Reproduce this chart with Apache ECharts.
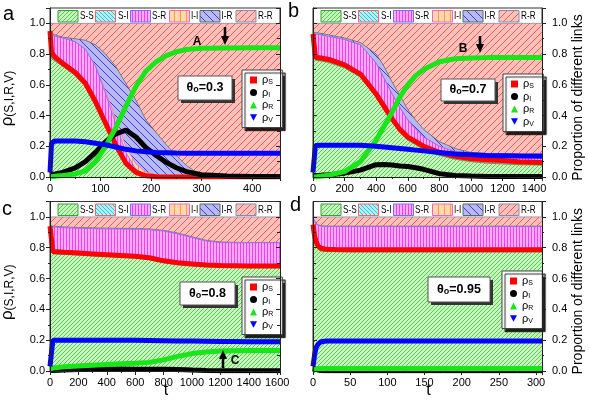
<!DOCTYPE html>
<html><head><meta charset="utf-8">
<script src="https://cdn.jsdelivr.net/npm/echarts@6/dist/echarts.min.js"></script>
<style>html,body{margin:0;padding:0;background:#fff}#c{width:589px;height:405px}</style>
</head><body><div id="c"></div><script>
// ---------------- DATA ----------------
// Panel a (theta0 = 0.3)
const ta = [0, 3, 10, 25, 50, 70, 90, 110, 130, 150, 170, 190, 210, 230, 250, 270, 300, 350, 400, 455];
const aS = [0.95, 0.81, 0.78, 0.74, 0.68, 0.61, 0.49, 0.35, 0.21, 0.09, 0.03, 0.008, 0.002, 0, 0, 0, 0, 0, 0, 0];
const aI = [0.015, 0.015, 0.02, 0.03, 0.06, 0.1, 0.16, 0.23, 0.28, 0.305, 0.26, 0.19, 0.14, 0.095, 0.06, 0.035, 0.015, 0.006, 0.004, 0.003];
const aR = [0, 0, 0.005, 0.01, 0.02, 0.04, 0.1, 0.2, 0.32, 0.46, 0.59, 0.69, 0.75, 0.79, 0.815, 0.83, 0.838, 0.84, 0.842, 0.842];
const aV = [0.03, 0.22, 0.235, 0.235, 0.235, 0.23, 0.22, 0.21, 0.195, 0.18, 0.17, 0.165, 0.16, 0.158, 0.156, 0.155, 0.155, 0.155, 0.155, 0.155];
// upper edges of the stacked link bands (cumulative proportions)
const aTopSS = [0.90, 0.77, 0.755, 0.72, 0.66, 0.59, 0.47, 0.33, 0.19, 0.08, 0.025, 0.006, 0.001, 0, 0, 0, 0, 0, 0, 0];
const aTopSI = [0.90, 0.772, 0.758, 0.724, 0.665, 0.596, 0.478, 0.34, 0.2, 0.088, 0.03, 0.008, 0.002, 0, 0, 0, 0, 0, 0, 0];
const aTopSR = [0.94, 0.925, 0.915, 0.905, 0.88, 0.83, 0.72, 0.54, 0.35, 0.16, 0.05, 0.012, 0.003, 0, 0, 0, 0, 0, 0, 0];
const aTopII = [0.94, 0.925, 0.915, 0.905, 0.882, 0.833, 0.725, 0.555, 0.38, 0.2, 0.085, 0.032, 0.013, 0.005, 0.002, 0, 0, 0, 0, 0];
const aTopIR = [0.94, 0.93, 0.925, 0.91, 0.9, 0.89, 0.86, 0.8, 0.72, 0.61, 0.5, 0.37, 0.29, 0.21, 0.14, 0.075, 0.005, 0, 0, 0];
const aTopRR = [1, 1, 1, 1, 1, 1, 1, 1, 1, 1, 1, 1, 1, 1, 1, 1, 1, 1, 1, 1];

// Panel b (theta0 = 0.7)
const tb = [0, 15, 50, 100, 200, 300, 400, 450, 500, 550, 600, 650, 700, 800, 900, 1000, 1100, 1200, 1300, 1450];
const bS = [0.93, 0.78, 0.775, 0.765, 0.73, 0.67, 0.54, 0.46, 0.38, 0.31, 0.26, 0.23, 0.2, 0.16, 0.135, 0.12, 0.113, 0.108, 0.1, 0.095];
const bI = [0.01, 0.01, 0.012, 0.015, 0.025, 0.045, 0.08, 0.082, 0.078, 0.072, 0.068, 0.06, 0.05, 0.022, 0.01, 0.006, 0.004, 0.003, 0.003, 0.003];
const bR = [0, 0, 0.005, 0.012, 0.035, 0.1, 0.24, 0.33, 0.42, 0.52, 0.6, 0.66, 0.7, 0.75, 0.77, 0.775, 0.777, 0.778, 0.778, 0.778];
const bV = [0.03, 0.205, 0.207, 0.207, 0.207, 0.206, 0.2, 0.195, 0.19, 0.185, 0.18, 0.175, 0.17, 0.16, 0.15, 0.145, 0.14, 0.138, 0.136, 0.135];
const bTopSS = [0.9, 0.76, 0.755, 0.745, 0.71, 0.65, 0.52, 0.44, 0.36, 0.29, 0.24, 0.21, 0.18, 0.14, 0.115, 0.1, 0.09, 0.085, 0.08, 0.077];
const bTopSI = [0.9, 0.762, 0.757, 0.747, 0.713, 0.653, 0.524, 0.444, 0.364, 0.294, 0.243, 0.213, 0.183, 0.142, 0.117, 0.101, 0.091, 0.086, 0.081, 0.078];
const bTopSR = [0.935, 0.93, 0.925, 0.915, 0.895, 0.86, 0.74, 0.64, 0.54, 0.45, 0.37, 0.31, 0.26, 0.2, 0.165, 0.152, 0.149, 0.148, 0.148, 0.148];
const bTopII = [0.935, 0.93, 0.925, 0.915, 0.896, 0.862, 0.744, 0.645, 0.545, 0.455, 0.374, 0.313, 0.262, 0.201, 0.166, 0.153, 0.15, 0.149, 0.149, 0.149];
const bTopIR = [0.945, 0.94, 0.935, 0.925, 0.905, 0.875, 0.8, 0.72, 0.62, 0.53, 0.44, 0.37, 0.31, 0.23, 0.185, 0.16, 0.153, 0.152, 0.152, 0.152];
const bTopRR = [1, 1, 1, 1, 1, 1, 1, 1, 1, 1, 1, 1, 1, 1, 1, 1, 1, 1, 1, 1];

// Panel c (theta0 = 0.8)
const tc = [0, 20, 100, 200, 300, 400, 500, 600, 700, 800, 900, 1000, 1100, 1200, 1300, 1400, 1620];
const cS = [0.94, 0.775, 0.77, 0.765, 0.76, 0.755, 0.75, 0.745, 0.735, 0.715, 0.702, 0.695, 0.688, 0.684, 0.683, 0.682, 0.682];
const cI = [0.005, 0.004, 0.006, 0.01, 0.012, 0.013, 0.013, 0.012, 0.012, 0.012, 0.01, 0.006, 0.003, 0.002, 0.001, 0.001, 0.001];
const cR = [0.01, 0.02, 0.027, 0.032, 0.037, 0.042, 0.047, 0.05, 0.056, 0.072, 0.095, 0.113, 0.124, 0.13, 0.132, 0.133, 0.133];
const cV = [0.03, 0.2, 0.2, 0.2, 0.2, 0.2, 0.2, 0.199, 0.198, 0.197, 0.195, 0.194, 0.193, 0.192, 0.191, 0.19, 0.19];
const cTopSS = [0.9, 0.76, 0.757, 0.753, 0.748, 0.743, 0.738, 0.733, 0.723, 0.703, 0.69, 0.683, 0.677, 0.673, 0.672, 0.671, 0.671];
const cTopSI = [0.9, 0.761, 0.758, 0.754, 0.749, 0.744, 0.739, 0.734, 0.724, 0.704, 0.691, 0.684, 0.678, 0.674, 0.673, 0.672, 0.672];
const cTopSR = [0.94, 0.935, 0.93, 0.926, 0.924, 0.922, 0.921, 0.92, 0.917, 0.908, 0.89, 0.866, 0.843, 0.833, 0.832, 0.832, 0.832];
const cTopII = [0.94, 0.936, 0.931, 0.927, 0.925, 0.923, 0.922, 0.921, 0.918, 0.909, 0.891, 0.867, 0.844, 0.834, 0.833, 0.833, 0.833];
const cTopIR = [0.945, 0.94, 0.935, 0.931, 0.929, 0.927, 0.926, 0.925, 0.922, 0.913, 0.895, 0.871, 0.848, 0.837, 0.835, 0.834, 0.834];
const cTopRR = [1, 1, 1, 1, 1, 1, 1, 1, 1, 1, 1, 1, 1, 1, 1, 1, 1];

// Panel d (theta0 = 0.95)
const td = [0, 2, 4, 7, 10, 15, 20, 30, 50, 100, 200, 308];
const dS = [0.95, 0.88, 0.84, 0.81, 0.798, 0.792, 0.79, 0.788, 0.787, 0.787, 0.787, 0.787];
const dI = [0.02, 0.015, 0.01, 0.006, 0.003, 0.002, 0.001, 0.001, 0.001, 0.001, 0.001, 0.001];
const dR = [0.002, 0.008, 0.012, 0.015, 0.016, 0.016, 0.016, 0.016, 0.016, 0.016, 0.016, 0.016];
const dV = [0.03, 0.1, 0.15, 0.175, 0.188, 0.193, 0.195, 0.195, 0.195, 0.195, 0.195, 0.195];
const dTopSS = [0.93, 0.86, 0.82, 0.79, 0.78, 0.776, 0.775, 0.774, 0.773, 0.773, 0.773, 0.773];
const dTopSI = [0.931, 0.861, 0.821, 0.791, 0.781, 0.777, 0.776, 0.775, 0.774, 0.774, 0.774, 0.774];
const dTopSR = [0.99, 0.97, 0.955, 0.945, 0.94, 0.938, 0.937, 0.937, 0.937, 0.937, 0.937, 0.937];
const dTopII = [0.991, 0.971, 0.956, 0.946, 0.941, 0.939, 0.938, 0.938, 0.938, 0.938, 0.938, 0.938];
const dTopIR = [0.995, 0.975, 0.96, 0.949, 0.943, 0.941, 0.94, 0.94, 0.94, 0.94, 0.94, 0.94];
const dTopRR = [1, 1, 1, 1, 1, 1, 1, 1, 1, 1, 1, 1];

const linkNames = ['S-S', 'S-I', 'S-R', 'I-I', 'I-R', 'R-R'];
const curveNames = ['ρS', 'ρI', 'ρR', 'ρV'];
const thetaLabels = ['0.3', '0.7', '0.8', '0.95'];
const panelLetters = ['a', 'b', 'c', 'd'];

// ---------------- STYLE ----------------
const FONT = 'Liberation Sans, Arial, sans-serif';
function pat(s, bg, fg, kind) {
  const c = document.createElement('canvas'); c.width = s; c.height = s;
  const g = c.getContext('2d');
  g.fillStyle = bg; g.fillRect(0, 0, s, s);
  g.strokeStyle = fg; g.lineWidth = 1;
  g.beginPath();
  if (kind === 'v') { g.moveTo(0.5, 0); g.lineTo(0.5, s); }
  else if (kind === '/') { for (let k = -1; k <= 1; k++) { g.moveTo(k * s, s); g.lineTo(k * s + s, 0); } }
  else { for (let k = -1; k <= 1; k++) { g.moveTo(k * s, 0); g.lineTo(k * s + s, s); } }
  g.stroke();
  return { image: c, repeat: 'repeat' };
}
const linkFill = [
  pat(4, '#c8f4bd', '#55cf55', '/'),
  pat(4, '#b0f0f8', '#30c0e0', '\\'),
  pat(3, '#ffaaff', '#f040f0', 'v'),
  pat(6, '#ffd8ae', '#ff9c48', 'v'),
  pat(8, '#b8b8f2', '#3c3cd8', '\\'),
  pat(7, '#ffc0b9', '#f25c5c', '/')
];
const linkEdge = ['#3aa03a', '#ff6060', '#7070ff', '#ff60c0', '#5c6c5c', '#8a8aa8'];
const curveColor = ['#ff0000', '#000000', '#19e619', '#0000ff'];
const curveIcon = ['rect', 'circle', 'triangle', 'path://M0,0L10,0L5,9Z'];

const panels = [
  { t: ta, c: [aS, aI, aR, aV], tops: [aTopSS, aTopSI, aTopSR, aTopII, aTopIR, aTopRR], max: 455, iv: 100, left: 50, top: 8, w: 230, h: 169, side: 'left' },
  { t: tb, c: [bS, bI, bR, bV], tops: [bTopSS, bTopSI, bTopSR, bTopII, bTopIR, bTopRR], max: 1450, iv: 200, left: 313, top: 8, w: 229, h: 169, side: 'right' },
  { t: tc, c: [cS, cI, cR, cV], tops: [cTopSS, cTopSI, cTopSR, cTopII, cTopIR, cTopRR], max: 1620, iv: 200, left: 50, top: 201.5, w: 230, h: 169.5, side: 'left' },
  { t: td, c: [dS, dI, dR, dV], tops: [dTopSS, dTopSI, dTopSR, dTopII, dTopIR, dTopRR], max: 308, iv: 50, left: 313, top: 201.5, w: 229, h: 169.5, side: 'right' }
];
const legendPos = [[242, 70], [503, 74], [242, 277], [502, 271]];
const thetaBox = [[178, 76, 54, 24], [441, 79, 54, 22], [180, 282, 55, 23], [428, 277, 62, 25]];
const letterPos = [[3, 14], [288, 11], [2, 209], [290, 205]];

const grid = [], xAxis = [], yAxis = [], series = [], legend = [], graphic = [];
const axisCol = '#222';
panels.forEach((P, p) => {
  grid.push({ left: P.left, top: P.top, width: P.w, height: P.h, show: true, borderColor: '#333', borderWidth: 1, backgroundColor: 'transparent' });
  xAxis.push({
    gridIndex: p, type: 'value', min: 0, max: P.max, interval: P.iv, position: 'bottom', z: 10,
    axisLine: { show: true, onZero: false, lineStyle: { color: axisCol, width: 1 } },
    axisTick: { show: true, inside: false, length: 4, lineStyle: { color: axisCol } },
    minorTick: { show: true, splitNumber: 2, length: 2, lineStyle: { color: axisCol } },
    axisLabel: { fontSize: 11, color: '#000', margin: 6, showMaxLabel: false, fontFamily: FONT, formatter: v => String(v) },
    splitLine: { show: false }
  });
  ['left', 'right'].forEach(pos => {
    const lab = pos === P.side;
    yAxis.push({
      gridIndex: p, type: 'value', min: 0, max: 1.1, interval: 0.2, position: pos, z: 10,
      axisLine: { show: true, onZero: false, lineStyle: { color: axisCol, width: 1 } },
      axisTick: { show: true, inside: !lab, length: 4, lineStyle: { color: axisCol } },
      minorTick: { show: true, splitNumber: 2, length: lab ? 2 : 3, lineStyle: { color: axisCol } },
      axisLabel: { show: lab, fontSize: 11, color: '#000', margin: lab && pos === 'right' ? 10 : 5, showMaxLabel: false, fontFamily: FONT, formatter: v => v.toFixed(1) },
      splitLine: { show: false }
    });
  });
  const yi = 2 * p;
  // link bands: each cumulative upper edge filled down to 0, drawn from the top band downward
  for (let k = P.tops.length - 1; k >= 0; k--) {
    const top = P.tops[k];
    series.push({
      type: 'line', name: linkNames[k], xAxisIndex: p, yAxisIndex: yi,
      symbol: 'none', silent: true, z: 1 + (5 - k) * 0.1, animation: false,
      areaStyle: { color: linkFill[k], opacity: 1, origin: 'start' },
      lineStyle: { width: 0.8, color: linkEdge[k] },
      itemStyle: { color: linkEdge[k] },
      data: P.t.map((x, i) => [x, top[i]])
    });
  }
  P.c.forEach((arr, k) => {
    series.push({
      type: 'line', name: curveNames[k], xAxisIndex: p, yAxisIndex: yi, symbol: 'none',
      silent: true, z: 3 + k * 0.1, animation: false, color: curveColor[k],
      lineStyle: { width: 5, color: curveColor[k] },
      data: P.t.map((x, i) => [x, arr[i]])
    });
  });
  legend.push({
    left: legendPos[p][0], top: legendPos[p][1], orient: 'vertical', selectedMode: false,
    data: curveNames.map((n, k) => ({ name: n, icon: curveIcon[k] })),
    itemWidth: 7, itemHeight: 7, itemGap: 0.5,
    backgroundColor: '#fff', borderColor: '#444', borderWidth: 1,
    shadowColor: 'rgba(0,0,0,0.85)', shadowOffsetX: 3, shadowOffsetY: 3, shadowBlur: 1,
    padding: [4, 9, 4, 8],
    formatter: n => '{p|ρ}{s|' + n.slice(1) + '}',
    textStyle: { lineHeight: 12, rich: { p: { fontSize: 11, fontFamily: FONT, color: '#000' }, s: { fontSize: 7, fontFamily: FONT, color: '#000', verticalAlign: 'bottom' } } }
  });
  // top legend for link types
  const boxX = [8, 45.5, 80.5, 119.5, 150, 186];
  const txtX = [30, 68, 102, 141, 171.5, 208];
  linkNames.forEach((n, k) => {
    graphic.push({ type: 'text', x: P.left + txtX[k], y: P.top + 8.5, scaleX: 0.78, z: 20,
      style: { text: n, font: '10.5px ' + FONT, fill: '#000', verticalAlign: 'middle' } });
  });
  linkNames.forEach((n, k) => {
    graphic.push({ type: 'rect', shape: { x: P.left + boxX[k], y: P.top + 2.5, width: 20, height: 11.5 }, z: 21,
      style: { fill: linkFill[k], stroke: linkEdge[k], lineWidth: 1 } });
  });
  // theta box
  const tbx = thetaBox[p];
  graphic.push({ type: 'rect', shape: { x: tbx[0] + 3, y: tbx[1] + 3, width: tbx[2], height: tbx[3] }, z: 20, style: { fill: '#333' } });
  graphic.push({ type: 'rect', shape: { x: tbx[0], y: tbx[1], width: tbx[2], height: tbx[3] }, z: 21, style: { fill: '#fff', stroke: '#555', lineWidth: 1 } });
  graphic.push({ type: 'text', x: tbx[0] + tbx[2] / 2, y: tbx[1] + tbx[3] / 2, z: 22,
    style: { text: '{a|θ}{b|o}{a|=' + thetaLabels[p] + '}', align: 'center', verticalAlign: 'middle',
      rich: { a: { fontSize: 12.5, fontWeight: 'bold', fontFamily: FONT, fill: '#000', color: '#000' }, b: { fontSize: 9, fontWeight: 'bold', fontFamily: FONT, fill: '#000', color: '#000', verticalAlign: 'bottom' } } } });
  // panel letter
  graphic.push({ type: 'text', x: letterPos[p][0], y: letterPos[p][1], z: 22,
    style: { text: panelLetters[p], font: '20px ' + FONT, fill: '#000', verticalAlign: 'middle' } });
  // axis names
  const cy = P.top + P.h / 2 + 6;
  if (P.side === 'left') {
    graphic.push({ type: 'text', x: 16, y: cy, rotation: Math.PI / 2, z: 22,
      style: { text: '{p|ρ}{s|(S,I,R,V)}', align: 'center', verticalAlign: 'bottom',
        rich: { p: { fontSize: 17, fontFamily: FONT, fill: '#000', color: '#000' }, s: { fontSize: 12, fontFamily: FONT, fill: '#000', color: '#000', verticalAlign: 'bottom' } } } });
  } else {
    graphic.push({ type: 'text', x: 578, y: P.top + P.h / 2 + 5, rotation: Math.PI / 2, z: 22,
      style: { text: 'Proportion of different links', font: '14px ' + FONT, fill: '#000', align: 'center', verticalAlign: 'middle' } });
  }
  if (p >= 2) {
    graphic.push({ type: 'text', x: P.left + P.w / 2 + 1, y: 399, z: 22,
      style: { text: 't', font: '16px ' + FONT, fill: '#000', align: 'center', verticalAlign: 'bottom' } });
  }
});

// annotations
function arrow(x, yTail, yTip) {
  const d = yTip > yTail ? 1 : -1;
  graphic.push({ type: 'line', shape: { x1: x, y1: yTail, x2: x, y2: yTip - d * 7 }, z: 25, style: { stroke: '#000', lineWidth: 2.5 } });
  graphic.push({ type: 'polygon', shape: { points: [[x - 4, yTip - d * 9], [x + 4, yTip - d * 9], [x, yTip]] }, z: 25, style: { fill: '#000' } });
}
arrow(225, 27, 45); arrow(480, 36, 53); arrow(223, 368, 350);
[['A', 197, 42], ['B', 463, 49], ['C', 235, 361]].forEach(a => {
  graphic.push({ type: 'text', x: a[1], y: a[2], z: 25, style: { text: a[0], font: 'bold 12px ' + FONT, fill: '#000', align: 'center', verticalAlign: 'middle' } });
});

const chart = echarts.init(document.getElementById('c'), null, { renderer: 'canvas' });
chart.setOption({ animation: false, backgroundColor: '#fff', grid, xAxis, yAxis, series, legend, graphic });
</script></body></html>
